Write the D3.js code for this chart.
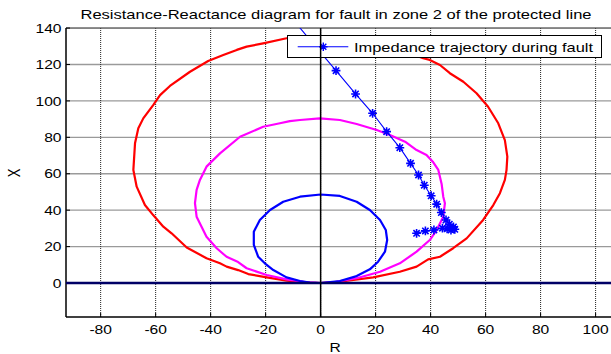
<!DOCTYPE html>
<html><head><meta charset="utf-8">
<script src="https://cdnjs.cloudflare.com/ajax/libs/d3/7.8.5/d3.min.js"></script>
<style>
html,body{margin:0;padding:0;background:#fff;}
svg{display:block;font-family:"Liberation Sans",Arial,sans-serif;}
</style></head>
<body>
<svg id="chart" width="611" height="354"></svg>
<script>
// ---- data ----
const titleText = "Resistance-Reactance diagram for fault in zone 2 of the protected line";
const legendLabel = "Impedance trajectory during fault";
const xTicks = [-80, -60, -40, -20, 0, 20, 40, 60, 80, 100];
const yTicks = [0, 20, 40, 60, 80, 100, 120, 140];

// Zone 1 mho circle (blue)
const zone1R = [0, 7.0, 13.1, 17.9, 20.9, 23.4, 24.2, 23.7, 21.6, 17.9, 13.1, 7.0, 0, -7.5, -13.6, -18.4, -22.1, -24.3, -24.3, -22.7, -20.3, -17.2, -12.4, -7.5, -3.9, 0];
const zone1X = [0, 1.1, 3.8, 7.5, 11.7, 17.2, 23.6, 29.1, 34.6, 40.1, 44.6, 47.8, 48.6, 47.4, 44.6, 40.1, 34.6, 28.2, 20.9, 14.4, 10.8, 7.1, 3.1, 1.1, 0.2, 0];

// Zone 2 mho circle (magenta)
const zone2R = [0, 4.6, 13.1, 21.6, 28.8, 34.9, 39.7, 42.2, 44.6, 45.2, 44.6, 44.0, 42.8, 40.9, 38.5, 34.9, 30.7, 25.2, 20.4, 13.1, 7.0, -0.3, -7.5, -11.2, -14.8, -20.9, -29.3, -36.6, -41.5, -43.9, -45.1, -45.7, -45.1, -43.3, -41.5, -37.8, -34.2, -30.0, -26.9, -19.6, -12.4, -5.1, 0];
const zone2X = [0, 0.4, 2.6, 6.2, 10.8, 17.2, 23.6, 29.1, 36.4, 43.8, 47.4, 54.4, 62.1, 66.4, 70.3, 73.0, 77.6, 81.3, 84.0, 87.3, 89.5, 90.4, 89.5, 88.9, 87.7, 85.8, 80.3, 71.2, 63.9, 56.6, 51.1, 43.8, 36.4, 30.9, 25.4, 19.1, 14.4, 11.5, 8.1, 4.4, 2.0, 0.4, 0];

// Zone 3 mho circle (red)
const zone3R = [0, 7.0, 19.1, 28.8, 34.9, 39.1, 43.4, 48.2, 53.1, 59.1, 62.8, 65.2, 67.0, 67.6, 67.9, 67.0, 64.6, 60.9, 56.7, 51.9, 47.0, 43.4, 39.7, 37.3, 25.0, 10.0, 0, -12.4, -20.9, -26.9, -30.5, -35.4, -40.9, -47.5, -54.8, -58.4, -60.9, -64.5, -66.3, -67.5, -68.1, -66.9, -63.9, -60.9, -57.2, -54.2, -48.7, -41.5, -36.6, -34.2, -30.0, -26.3, -19.6, -12.4, -3.9, 0];
const zone3X = [0, 0.7, 3.1, 6.2, 9.0, 13.0, 14.4, 19.1, 24.5, 34.6, 42.8, 49.3, 56.6, 62.0, 69.4, 78.5, 87.7, 96.8, 104.2, 110.5, 115.2, 119.7, 122.5, 123.4, 130.2, 134.3, 135.0, 134.4, 131.6, 129.8, 128.0, 125.2, 121.9, 116.0, 108.2, 103.2, 97.7, 90.4, 85.0, 76.7, 62.1, 52.9, 42.8, 37.3, 30.9, 27.3, 19.5, 13.6, 10.8, 9.0, 7.1, 4.9, 3.1, 1.3, 0.2, 0];

// Impedance trajectory during fault
const trajR = [-10.8, -2.2, 5.6, 12.7, 18.9, 24.0, 28.8, 32.7, 35.6, 37.7, 40.2, 42.2, 43.9, 45.6, 46.8, 47.9, 48.8, 48.3, 47.4, 46.0, 44.3, 41.2, 38.1, 34.9];
const trajX = [146, 130.5, 116.6, 103.8, 93.2, 83.1, 74.3, 65.7, 59.3, 53.7, 47.9, 43.3, 38.7, 34.6, 32.3, 30.0, 29.5, 30.8, 29.1, 29.8, 30.1, 29.1, 28.6, 27.3];

// ---- layout ----
const L = 66, R = 611, T = 28, B = 317;
const svg = d3.select("#chart");
const x = d3.scaleLinear().domain([-92.6, 105.6]).range([L, R]);
const y = d3.scaleLinear().domain([-18.67, 140.03]).range([B, T]);
const SX = 1.2; // horizontal stretch of text in the reference

function stretchedText(g, px, py, txt, anchor, size) {
  return g.append("g").attr("transform", `translate(${px},${py}) scale(${SX},1)`)
    .append("text").attr("text-anchor", anchor).attr("font-size", size)
    .attr("fill", "#000").text(txt);
}

svg.append("defs").append("clipPath").attr("id", "clip")
  .append("rect").attr("x", L).attr("y", T).attr("width", R - L).attr("height", B - T);

// grid
const grid = svg.append("g");
yTicks.forEach(v => {
  grid.append("line").attr("x1", L).attr("x2", R).attr("y1", y(v)).attr("y2", y(v))
    .attr("stroke", "#9a9a9a").attr("stroke-width", 1.3);
});
xTicks.forEach(v => {
  grid.append("line").attr("x1", x(v)).attr("x2", x(v)).attr("y1", T).attr("y2", B)
    .attr("stroke", "#222").attr("stroke-width", 1).attr("stroke-dasharray", "1,1");
});

// axes frame
svg.append("line").attr("x1", L).attr("x2", R).attr("y1", T).attr("y2", T).attr("stroke", "#555").attr("stroke-width", 1);
svg.append("line").attr("x1", L).attr("x2", R).attr("y1", B).attr("y2", B).attr("stroke", "#000").attr("stroke-width", 1.5);
svg.append("line").attr("x1", L).attr("x2", L).attr("y1", T).attr("y2", B).attr("stroke", "#000").attr("stroke-width", 1.5);
// ticks
xTicks.forEach(v => {
  svg.append("line").attr("x1", x(v)).attr("x2", x(v)).attr("y1", B).attr("y2", B - 4).attr("stroke", "#000");
});
yTicks.forEach(v => {
  svg.append("line").attr("x1", L).attr("x2", L + 4).attr("y1", y(v)).attr("y2", y(v)).attr("stroke", "#000");
});

// tick labels
xTicks.forEach(v => stretchedText(svg, x(v), 334, String(v), "middle", 13));
yTicks.forEach(v => stretchedText(svg, 61.5, y(v) + 4.7, String(v), "end", 13));

// axis labels
stretchedText(svg, 335, 352, "R", "middle", 13);
svg.append("g").attr("transform", "translate(20,173) rotate(-90) scale(1,1.2)")
  .append("text").attr("text-anchor", "middle").attr("font-size", 13).text("X");

// title
svg.append("text").attr("x", 336).attr("y", 18.5).attr("text-anchor", "middle")
  .attr("font-size", 13).attr("textLength", 511).attr("lengthAdjust", "spacingAndGlyphs")
  .text(titleText);

// data
const plot = svg.append("g").attr("clip-path", "url(#clip)");
const line = d3.line().x(d => x(d[0])).y(d => y(d[1]));
const zones = [
  {r: zone3R, xv: zone3X, color: "#ff0000"},
  {r: zone2R, xv: zone2X, color: "#ff00ff"},
  {r: zone1R, xv: zone1X, color: "#0000ff"}
];
zones.forEach(z => {
  plot.append("path").datum(z.r.map((v, i) => [v, z.xv[i]])).attr("d", line)
    .attr("fill", "none").attr("stroke", z.color).attr("stroke-width", 2.2)
    .attr("stroke-linejoin", "round");
});

// R axis (X = 0) navy line
plot.append("line").attr("x1", L).attr("x2", R).attr("y1", y(0)).attr("y2", y(0))
  .attr("stroke", "#000066").attr("stroke-width", 2.3);

// trajectory
const trajPts = trajR.map((v, i) => [v, trajX[i]]);
plot.append("path").datum(trajPts).attr("d", line).attr("fill", "none")
  .attr("stroke", "#0000ff").attr("stroke-width", 1.1);
const starPath = s => `M${-s},0L${s},0M0,${-s}L0,${s}M${-s*0.72},${-s*0.72}L${s*0.72},${s*0.72}M${-s*0.72},${s*0.72}L${s*0.72},${-s*0.72}`;
plot.selectAll("path.star").data(trajPts).join("path").attr("class", "star")
  .attr("transform", d => `translate(${x(d[0])},${y(d[1])})`)
  .attr("d", starPath(4.4)).attr("stroke", "#0000ff").attr("stroke-width", 1.6).attr("fill", "none");

// legend
const lg = svg.append("g");
lg.append("rect").attr("x", 287.5).attr("y", 35.5).attr("width", 314).attr("height", 22)
  .attr("fill", "#fff").attr("stroke", "#000").attr("stroke-width", 1);
lg.append("line").attr("x1", 297.7).attr("x2", 348.3).attr("y1", 46.7).attr("y2", 46.7)
  .attr("stroke", "#0000ff").attr("stroke-width", 1.1);
lg.append("path").attr("transform", "translate(323.3,46.7)").attr("d", starPath(4.2))
  .attr("stroke", "#0000ff").attr("stroke-width", 1.4);
lg.append("text").attr("x", 354).attr("y", 51.5).attr("font-size", 13)
  .attr("textLength", 239).attr("lengthAdjust", "spacingAndGlyphs").text(legendLabel);

// X axis (R = 0) black line, drawn on top
svg.append("line").attr("x1", x(0)).attr("x2", x(0)).attr("y1", T).attr("y2", B)
  .attr("stroke", "#000").attr("stroke-width", 1.5);
</script>
</body></html>
